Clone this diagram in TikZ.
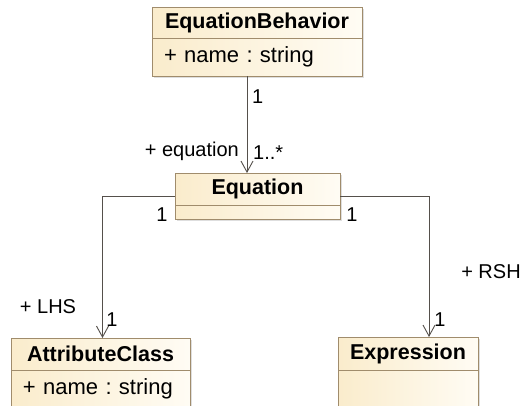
\documentclass[tikz,border=0pt]{standalone}
\usepackage{fontspec}
\setmainfont{Liberation Sans}
\frenchspacing
\usetikzlibrary{arrows.meta, positioning, shadows}
\definecolor{classfill}{RGB}{250,236,204}
\definecolor{classlight}{RGB}{255,252,244}
\definecolor{classline}{RGB}{160,140,108}
\definecolor{assocline}{RGB}{85,80,75}
\tikzset{
  classhead/.style={rectangle, draw=classline, line width=0.9pt, left color=classfill, right color=classlight, inner sep=0pt, outer sep=0pt, anchor=north, drop shadow={shadow xshift=2pt, shadow yshift=-2pt, fill=black!25}, font=\fontsize{21.5}{24}\selectfont\bfseries},
  classbody/.style={rectangle, draw=classline, line width=0.9pt, left color=classfill, right color=classlight, inner xsep=12pt, inner ysep=0pt, outer sep=0pt, align=left, drop shadow={shadow xshift=2pt, shadow yshift=-2pt, fill=black!25}, font=\fontsize{22}{26}\selectfont},
  assoc/.style={draw=assocline, line width=0.9pt, -{Straight Barb[length=11pt,width=12pt]}},
  role/.style={inner sep=0pt, font=\fontsize{20}{24}\selectfont}
}
\begin{document}
\begin{tikzpicture}
\clip (0pt,0pt) rectangle (528pt,-405pt);
\fill[white] (0pt,0pt) rectangle (528pt,-405pt);

\node[classhead, minimum width=210pt, minimum height=31pt] (eqbhead) at (257pt,-7pt) {EquationBehavior};
\node[classbody, below=0pt of eqbhead, text width=186pt, minimum height=38pt] (eqbbody) {+ name : string};

\node[classhead, minimum width=165pt, minimum height=32pt] (eqhead) at (257.5pt,-173pt) {Equation};
\node[classbody, below=0pt of eqhead, text width=141pt, minimum height=14pt] (eqbody) {};

\node[classhead, minimum width=179pt, minimum height=32pt] (achead) at (100.5pt,-338pt) {AttributeClass};
\node[classbody, below=0pt of achead, text width=155pt, minimum height=38pt] (acbody) {+ name : string};

\node[classhead, minimum width=140pt, minimum height=33pt] (exhead) at (408pt,-337pt) {Expression};
\node[classbody, below=0pt of exhead, text width=116pt, minimum height=40pt] (exbody) {};

\draw[assoc] ([xshift=-10pt]eqbbody.south) -- ([xshift=-10pt]eqbbody.south |- eqhead.north);
\draw[assoc] ([yshift=9pt]eqhead.south west) -| ([xshift=2pt]achead.north);
\draw[assoc] ([yshift=9pt]eqhead.south east) -| ([xshift=21pt]exhead.north);

\node[role, anchor=west] (m1) at (252pt,-97pt) {1};
\node[role, anchor=east] (r1) at (239pt,-151pt) {+ equation};
\node[role, anchor=west] (m2) at (253pt,-153pt) {1..*};
\node[role] (m3) at (162pt,-215pt) {1};
\node[role] (m4) at (352pt,-215pt) {1};
\node[role] (r2) at (48pt,-307pt) {+ LHS};
\node[role] (m5) at (112pt,-320pt) {1};
\node[role] (r3) at (491pt,-272pt) {+ RSH};
\node[role] (m6) at (440pt,-320pt) {1};
\end{tikzpicture}
\end{document}
